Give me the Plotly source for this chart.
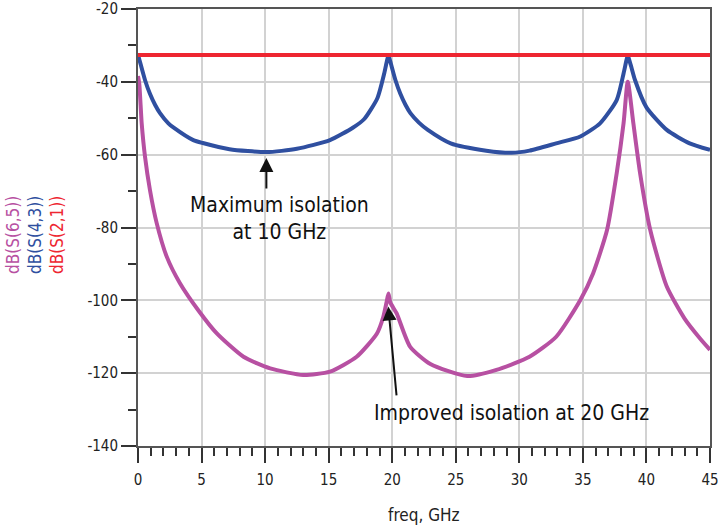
import plotly.graph_objects as go

# S-parameter sweeps
freq_s21 = [0, 45]
db_s21 = [-32.6, -32.6]

freq_s43 = [0, 0.1, 0.55, 0.94, 1.34, 1.73, 2.39, 2.78, 4.35, 5.1, 7.2, 10.1, 12.5, 15.1, 16.9, 17.8, 18.83, 19.37, 19.6, 19.7,
            19.8, 20.25, 20.64, 21.04, 21.43, 22.1, 22.8, 24.6, 27.4, 29.4, 30.8, 32.9, 34.8, 36.35, 37.66, 38.2, 38.43, 38.53,
            38.63, 38.8, 39.1, 40.0, 41.6, 43.4, 45]
db_s43 = [-32.6, -33.8, -39.5, -43.3, -46.3, -48.6, -51.4, -52.5, -56.0, -56.8, -58.5, -59.3, -58.4, -56.0, -52.6, -50.2, -44.5, -37.7, -34.0, -32.8,
          -33.8, -39.5, -43.3, -46.3, -48.6, -51.2, -53.2, -56.9, -58.9, -59.5, -58.9, -56.9, -55.0, -51.4, -45.0, -37.7, -34.0, -32.8,
          -33.8, -35.8, -39.5, -47.0, -53.2, -56.9, -58.7]

freq_s65 = [0, 0.1, 0.29, 0.55, 0.94, 1.47, 2.26, 3.3, 4.8, 6.2, 8.3, 10.4, 13.0, 15.1, 17.2, 18.8, 19.3, 19.55, 19.7,
            19.85, 20.35, 21.4, 23.0, 25.9, 28.2, 30.8, 32.9, 34.8, 35.8, 36.9, 37.66, 38.2, 38.53,
            38.97, 39.5, 40.3, 41.6, 43.0, 44.2, 45]
db_s65 = [-38.4, -40.5, -51.4, -60.5, -69.7, -78.8, -88.0, -95.3, -103.0, -109.1, -115.5, -118.7, -120.5, -119.6, -115.5, -109.1, -104.5, -100.6, -98.1,
          -100.6, -103.6, -112.7, -117.5, -120.8, -119.1, -115.5, -110.0, -99.9, -92.6, -80.7, -65.1, -51.4, -40.0,
          -51.4, -65.1, -80.7, -96.2, -105.0, -110.4, -113.6]

x_ticks = [0, 5, 10, 15, 20, 25, 30, 35, 40, 45]
y_ticks = [-20, -40, -60, -80, -100, -120, -140]

RED = '#EE2631'
BLUE = '#2F4FA0'
MAGENTA = '#B750A2'
FONT = 'DejaVu Sans Condensed, Liberation Sans Narrow, Roboto, sans-serif'

fig = go.Figure()
fig.add_trace(go.Scatter(x=freq_s65, y=db_s65, mode='lines',
                         line=dict(color=MAGENTA, width=4, shape='spline', smoothing=0.6)))
fig.add_trace(go.Scatter(x=freq_s43, y=db_s43, mode='lines',
                         line=dict(color=BLUE, width=4, shape='spline', smoothing=0.6)))
fig.add_trace(go.Scatter(x=freq_s21, y=db_s21, mode='lines', line=dict(color=RED, width=4)))

axis_common = dict(
    showgrid=True, gridcolor='#D2D2D2', gridwidth=1.5,
    showline=True, linecolor='#555555', linewidth=2, mirror=True,
    ticks='outside', ticklen=15, tickwidth=1.5, tickcolor='#333333',
    zeroline=False, automargin=False, ticklabeloverflow='allow',
    tickfont=dict(family=FONT, size=15, color='#222222'),
)

fig.update_layout(
    width=718, height=529,
    margin=dict(l=138, r=8, t=9, b=83),
    plot_bgcolor='white', paper_bgcolor='white',
    showlegend=False,
    font=dict(family=FONT, color='#111111'),
    xaxis=dict(range=[0, 45], tickvals=x_ticks, ticktext=[str(v) for v in x_ticks], ticklabelstandoff=4,
               minor=dict(dtick=1, ticks='outside', ticklen=8, tickcolor='#333333', showgrid=False),
               **axis_common),
    yaxis=dict(range=[-140, -20], tickvals=y_ticks, ticktext=[str(v) for v in y_ticks],
               minor=dict(dtick=10, ticks='outside', ticklen=8, tickcolor='#333333', showgrid=False),
               **axis_common),
)

# axis titles
fig.add_annotation(text='freq, GHz', xref='paper', yref='paper', x=0.5, y=-0.158, xanchor='center', yanchor='middle',
                   showarrow=False, font=dict(family=FONT, size=17, color='#222222'))
for txt, col, xp in [('dB(S(6,5))', MAGENTA, -0.2185), ('dB(S(4,3))', BLUE, -0.180), ('dB(S(2,1))', RED, -0.1416)]:
    fig.add_annotation(text=txt, xref='paper', yref='paper', x=xp, y=0.483, textangle=-90,
                       xanchor='center', yanchor='middle',
                       showarrow=False, font=dict(family=FONT, size=17, color=col))

# callouts
fig.add_annotation(x=10.1, y=-60.9, ax=10.1, ay=-69.7, xref='x', yref='y', axref='x', ayref='y',
                   showarrow=True, arrowhead=2, arrowsize=1.4, arrowwidth=2, arrowcolor='#111111', text='')
fig.add_annotation(x=11.17, y=-77.5, text='Maximum isolation<br>at 10 GHz', showarrow=False,
                   font=dict(family=FONT, size=21, color='#111111'))
fig.add_annotation(x=19.69, y=-101.7, ax=20.35, ay=-126.5, xref='x', yref='y', axref='x', ayref='y',
                   showarrow=True, arrowhead=2, arrowsize=1.4, arrowwidth=2, arrowcolor='#111111', text='')
fig.add_annotation(x=29.35, y=-130.9, text='Improved isolation at 20 GHz', showarrow=False,
                   font=dict(family=FONT, size=21, color='#111111'))

# page body has a default 8px margin; drop it so the figure sits at the window origin
fig.write_html("out.html", config={'displayModeBar': False},
               post_script="document.body.style.margin='0';")
